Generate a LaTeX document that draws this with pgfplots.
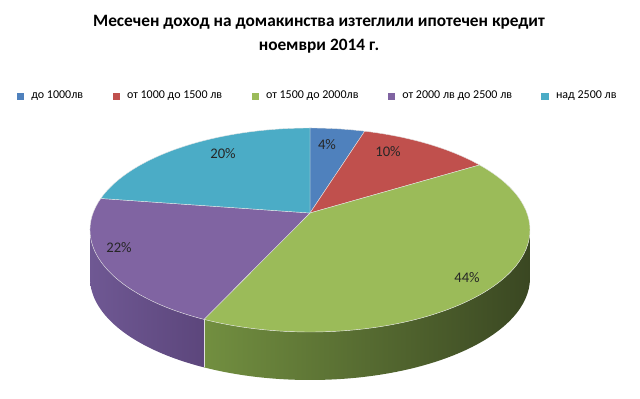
\documentclass[border=0pt]{standalone}
\usepackage{pgfplots}
\pgfplotsset{compat=1.18}
\usepackage{fontspec}
\setmainfont{Carlito}
\definecolor{c1}{HTML}{4F81BD}
\definecolor{c2}{HTML}{C0504D}
\definecolor{c3}{HTML}{9BBB59}
\definecolor{c4}{HTML}{8064A2}
\definecolor{c5}{HTML}{4BACC6}
\definecolor{g1}{HTML}{728F40}
\definecolor{g2}{HTML}{3A4722}
\definecolor{p1}{HTML}{6F5893}
\definecolor{p2}{HTML}{5C467C}
\begin{document}
\begin{tikzpicture}
% data (percent)
\def\vA{4}\def\vB{10}\def\vC{44}\def\vD{22}\def\vE{20}
\pgfmathsetmacro\aA{90}
\pgfmathsetmacro\aB{\aA-3.6*\vA}
\pgfmathsetmacro\aC{\aB-3.6*\vB}
\pgfmathsetmacro\aD{\aC-3.6*\vC}
\pgfmathsetmacro\aE{\aD-3.6*\vD}
\pgfmathsetmacro\aF{\aE-3.6*\vE}
\begin{axis}[
  x=0.75pt, y=0.75pt, xmin=0, xmax=640, ymin=0, ymax=399,
  hide axis, clip=false,
  legend style={at={(axis cs:318,303)}, anchor=center, draw=none, fill=none,
    font=\fontsize{9}{11}\selectfont, legend columns=-1,
    /tikz/every even column/.append style={column sep=20pt}},
]
\path (axis cs:0,0) rectangle (axis cs:640,399);
\addlegendimage{legend image code/.code={\fill[c1] (0pt,-2.4pt) rectangle (4.8pt,2.4pt); \path (8.5pt,0pt);}}
\addlegendimage{legend image code/.code={\fill[c2] (0pt,-2.4pt) rectangle (4.8pt,2.4pt); \path (8.5pt,0pt);}}
\addlegendimage{legend image code/.code={\fill[c3] (0pt,-2.4pt) rectangle (4.8pt,2.4pt); \path (8.5pt,0pt);}}
\addlegendimage{legend image code/.code={\fill[c4] (0pt,-2.4pt) rectangle (4.8pt,2.4pt); \path (8.5pt,0pt);}}
\addlegendimage{legend image code/.code={\fill[c5] (0pt,-2.4pt) rectangle (4.8pt,2.4pt); \path (8.5pt,0pt);}}
\legend{до 1000лв, от 1000 до 1500 лв, от 1500 до 2000лв, от 2000 лв до 2500 лв, над 2500 лв}
% sides (front half)
\shade[left color=g1, right color=g2]
  ([shift={(\aD:165pt and 76.5pt)}]axis cs:310,169) arc[start angle=\aD, end angle=0, x radius=165pt, y radius=76.5pt]
  -- ++(0pt,-36pt) arc[start angle=0, end angle=\aD, x radius=165pt, y radius=76.5pt] -- cycle;
\shade[left color=p1, right color=p2]
  ([shift={(-180:165pt and 76.5pt)}]axis cs:310,169) arc[start angle=-180, end angle=\aD, x radius=165pt, y radius=76.5pt]
  -- ++(0pt,-36pt) arc[start angle=\aD, end angle=-180, x radius=165pt, y radius=76.5pt] -- cycle;
\draw[white!75!gray, line width=0.3pt] ([shift={(\aD:165pt and 76.5pt)}]axis cs:310,169) -- ++(0pt,-36pt);
% top faces
\fill[c1, draw=white!80!gray, line width=0.3pt] (axis cs:310,186) -- ([shift={(\aA:165pt and 76.5pt)}]axis cs:310,169) arc[start angle=\aA, end angle=\aB, x radius=165pt, y radius=76.5pt] -- cycle;
\fill[c2, draw=white!80!gray, line width=0.3pt] (axis cs:310,186) -- ([shift={(\aB:165pt and 76.5pt)}]axis cs:310,169) arc[start angle=\aB, end angle=\aC, x radius=165pt, y radius=76.5pt] -- cycle;
\fill[c3, draw=white!80!gray, line width=0.3pt] (axis cs:310,186) -- ([shift={(\aC:165pt and 76.5pt)}]axis cs:310,169) arc[start angle=\aC, end angle=\aD, x radius=165pt, y radius=76.5pt] -- cycle;
\fill[c4, draw=white!80!gray, line width=0.3pt] (axis cs:310,186) -- ([shift={(\aD:165pt and 76.5pt)}]axis cs:310,169) arc[start angle=\aD, end angle=\aE, x radius=165pt, y radius=76.5pt] -- cycle;
\fill[c5, draw=white!80!gray, line width=0.3pt] (axis cs:310,186) -- ([shift={(\aE:165pt and 76.5pt)}]axis cs:310,169) arc[start angle=\aE, end angle=\aF, x radius=165pt, y radius=76.5pt] -- cycle;
% labels
\begin{scope}[every node/.style={font=\fontsize{11}{13}\selectfont, text=black!85}]
\node at (axis cs:327,254) {4\%};
\node at (axis cs:388,247) {10\%};
\node at (axis cs:467,121) {44\%};
\node at (axis cs:119,151) {22\%};
\node at (axis cs:223,245) {20\%};
\end{scope}
\node[align=center, font=\bfseries\fontsize{13}{18}\selectfont] at (axis cs:319,365) {Месечен доход на домакинства изтеглили ипотечен кредит\\ноември 2014 г.};
\end{axis}
\end{tikzpicture}
\end{document}
